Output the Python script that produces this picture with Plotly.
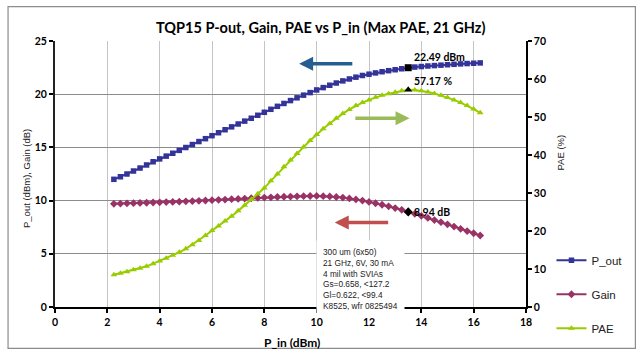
import plotly.graph_objects as go

# ---------------- data ----------------
pin = [2.25, 2.5, 2.75, 3.0, 3.25, 3.5, 3.75, 4.0, 4.25, 4.5,
       4.75, 5.0, 5.25, 5.5, 5.75, 6.0, 6.25, 6.5, 6.75, 7.0,
       7.25, 7.5, 7.75, 8.0, 8.25, 8.5, 8.75, 9.0, 9.25, 9.5,
       9.75, 10.0, 10.25, 10.5, 10.75, 11.0, 11.25, 11.5, 11.75, 12.0,
       12.25, 12.5, 12.75, 13.0, 13.25, 13.5, 13.75, 14.0, 14.25, 14.5,
       14.75, 15.0, 15.25, 15.5, 15.75, 16.0, 16.25]

p_out = [12.00, 12.24, 12.50, 12.78, 13.06, 13.35, 13.65, 13.92, 14.18, 14.45,
         14.72, 14.99, 15.27, 15.55, 15.82, 16.10, 16.38, 16.66, 16.93, 17.20,
         17.47, 17.74, 18.02, 18.30, 18.58, 18.86, 19.13, 19.40, 19.66, 19.91,
         20.15, 20.40, 20.62, 20.84, 21.05, 21.25, 21.43, 21.60, 21.76, 21.88,
         22.00, 22.11, 22.21, 22.30, 22.39, 22.49, 22.55, 22.60, 22.65, 22.69,
         22.73, 22.77, 22.81, 22.85, 22.88, 22.91, 22.94]

gain = [9.70, 9.72, 9.74, 9.76, 9.78, 9.80, 9.82, 9.84, 9.86, 9.88,
        9.90, 9.93, 9.95, 9.98, 10.01, 10.04, 10.07, 10.10, 10.13, 10.16,
        10.19, 10.22, 10.25, 10.28, 10.31, 10.34, 10.36, 10.38, 10.40, 10.42,
        10.43, 10.44, 10.42, 10.39, 10.34, 10.28, 10.20, 10.11, 10.00, 9.88,
        9.75, 9.61, 9.46, 9.30, 9.13, 8.94, 8.76, 8.57, 8.37, 8.17,
        7.97, 7.77, 7.56, 7.35, 7.14, 6.93, 6.72]

pae = [8.5, 8.9, 9.3, 9.8, 10.2, 10.7, 11.4, 12.1, 12.8, 13.6,
       14.4, 15.3, 16.4, 17.5, 18.8, 20.1, 21.3, 22.6, 23.9, 25.3,
       26.8, 28.3, 29.8, 31.3, 33.2, 35.0, 36.9, 38.7, 40.4, 42.1,
       43.8, 45.4, 46.9, 48.3, 49.7, 50.9, 52.0, 53.0, 53.8, 54.5,
       55.2, 55.7, 56.1, 56.5, 56.9, 57.17, 57.1, 56.9, 56.6, 56.2,
       55.7, 55.1, 54.5, 53.8, 53.0, 52.1, 51.1]

marker_pin = 13.5  # P_in of the max-PAE marker
x_ticks = [0, 2, 4, 6, 8, 10, 12, 14, 16, 18]
y_ticks = [0, 5, 10, 15, 20, 25]
y_grid = [5, 10, 15, 20]
y2_ticks = [0, 10, 20, 30, 40, 50, 60, 70]

info_lines = ["300 um (6x50)", "21 GHz, 6V, 30 mA", "4 mil with SVIAs",
              "Gs=0.658, <127.2", "Gl=0.622, <99.4", "K8525, wfr 0825494"]

# ---------------- styling ----------------
C_POUT = "#333399"
C_GAIN = "#993366"
C_PAE = "#99CC00"
TICKFONT = dict(family="Lato", size=10.5, color="black", weight="bold")

mi = pin.index(marker_pin)

fig = go.Figure()
fig.add_trace(go.Scatter(x=pin, y=p_out, name="P_out", mode="lines+markers",
                         line=dict(color=C_POUT, width=2),
                         marker=dict(symbol="square", size=5.5, color=C_POUT),
                         legendgroup="a"))
fig.add_trace(go.Scatter(x=pin, y=gain, name="Gain", mode="lines+markers",
                         line=dict(color=C_GAIN, width=2),
                         marker=dict(symbol="diamond", size=6, color=C_GAIN),
                         legendgroup="b"))
fig.add_trace(go.Scatter(x=pin, y=pae, name="PAE", mode="lines+markers",
                         line=dict(color=C_PAE, width=2),
                         marker=dict(symbol="triangle-up", size=6, color=C_PAE),
                         yaxis="y2", legendgroup="c"))

# black markers at the highlighted point
fig.add_trace(go.Scatter(x=[pin[mi]], y=[p_out[mi]], mode="markers", showlegend=False,
                         marker=dict(symbol="square", size=7, color="black")))
fig.add_trace(go.Scatter(x=[pin[mi]], y=[gain[mi]], mode="markers", showlegend=False,
                         marker=dict(symbol="diamond", size=7, color="black")))
fig.add_trace(go.Scatter(x=[pin[mi]], y=[pae[mi]], mode="markers", showlegend=False,
                         yaxis="y2", marker=dict(symbol="triangle-up", size=7, color="black")))

LABFONT = dict(family="Lato", size=10.5, color="black", weight="bold")
annotations = [
    dict(x=pin[mi], y=p_out[mi], xref="x", yref="y", text=f"{p_out[mi]:.2f} dBm",
         showarrow=False, xanchor="left", yanchor="bottom", xshift=4, yshift=3, font=LABFONT),
    dict(x=pin[mi], y=pae[mi], xref="x", yref="y2", text=f"{pae[mi]:.2f} %",
         showarrow=False, xanchor="left", yanchor="bottom", xshift=4, yshift=1, font=LABFONT),
    dict(x=pin[mi], y=gain[mi], xref="x", yref="y", text=f"{gain[mi]:.2f} dB",
         showarrow=False, xanchor="left", yanchor="middle", xshift=4, font=LABFONT),
    # direction arrows
    dict(x=9.33, y=22.87, ax=11.42, ay=22.87, xref="x", yref="y", axref="x", ayref="y",
         showarrow=True, arrowhead=2, arrowsize=0.8, arrowwidth=3.5, arrowcolor="#255E91", text=""),
    dict(x=13.55, y=17.74, ax=11.42, ay=17.74, xref="x", yref="y", axref="x", ayref="y",
         showarrow=True, arrowhead=2, arrowsize=0.8, arrowwidth=3.5, arrowcolor="#9BBB59", text=""),
    dict(x=10.69, y=7.94, ax=12.79, ay=7.94, xref="x", yref="y", axref="x", ayref="y",
         showarrow=True, arrowhead=2, arrowsize=0.8, arrowwidth=3.5, arrowcolor="#C0504D", text=""),
    # info box
    dict(x=(316 - 55) / 471.5, y=(307.5 - 240) / 267, xref="paper", yref="paper",
         text="<br>".join(info_lines), showarrow=False, align="left",
         xanchor="left", yanchor="top", bgcolor="white", borderpad=6,
         font=dict(family="Liberation Sans", size=8.3, color="#222222")),
    # title
    dict(x=(321 - 55) / 471.5, y=(307.5 - 27) / 267, xref="paper", yref="paper",
         text="TQP15 P-out, Gain, PAE vs P_in (Max PAE, 21 GHz)", showarrow=False,
         xanchor="center", yanchor="middle",
         font=dict(family="Lato", size=14.5, color="black", weight="bold")),
    # axis titles
    dict(x=(322 - 55) / 471.5, y=(307.5 - 343) / 267, xref="paper", yref="paper",
         text="P_in (dBm)", showarrow=False, xanchor="right", yanchor="middle",
         font=dict(family="Lato", size=12, color="black", weight="bold")),
    dict(x=(27 - 55) / 471.5, y=(307.5 - 179) / 267, xref="paper", yref="paper",
         text="P_out (dBm), Gain (dB)", showarrow=False, textangle=-90,
         xanchor="center", yanchor="middle",
         font=dict(family="Liberation Sans", size=9.5, color="#222222")),
    dict(x=(561 - 55) / 471.5, y=(307.5 - 152) / 267, xref="paper", yref="paper",
         text="PAE (%)", showarrow=False, textangle=-90,
         xanchor="center", yanchor="middle",
         font=dict(family="Liberation Sans", size=9.5, color="#222222")),
]

shapes = [
    dict(type="rect", xref="paper", yref="paper",
         x0=(8 - 55) / 471.5, x1=(636 - 55) / 471.5,
         y0=(307.5 - 349) / 267, y1=(307.5 - 6) / 267,
         line=dict(color="#8C8C8C", width=1.2), fillcolor="rgba(0,0,0,0)", layer="below"),
]

fig.update_layout(
    width=641, height=356, autosize=False,
    margin=dict(l=55, r=114.5, t=40.5, b=48.5, pad=0),
    paper_bgcolor="white", plot_bgcolor="white",
    showlegend=True,
    legend=dict(x=(552 - 55) / 471.5, y=(307.5 - 246) / 267, xanchor="left", yanchor="top",
                bgcolor="rgba(0,0,0,0)", font=dict(family="Liberation Sans", size=11.5, color="#222222"),
                tracegroupgap=15, itemwidth=30),
    xaxis=dict(range=[0, 18], tickvals=x_ticks, showline=True, linecolor="black", linewidth=2,
               ticks="outside", ticklen=4, tickcolor="black", tickwidth=1.5,
               showgrid=True, gridcolor="#C4C4C4", gridwidth=1.3, zeroline=False,
               tickfont=TICKFONT, fixedrange=True),
    yaxis=dict(range=[0, 25], tickvals=y_ticks, showline=True, linecolor="#222222", linewidth=2,
               ticks="outside", ticklen=4, tickcolor="black", tickwidth=1.5,
               showgrid=False, zeroline=False, tickfont=TICKFONT),
    yaxis3=dict(range=[0, 25], tickvals=y_grid, overlaying="y", side="left",
                showgrid=True, gridcolor="#8C8C8C", gridwidth=1, zeroline=False,
                showticklabels=False, ticks="", showline=False),
    yaxis2=dict(range=[0, 70], tickvals=y2_ticks, overlaying="y", side="right",
                showline=True, linecolor="black", linewidth=1.5,
                ticks="outside", ticklen=4, tickcolor="black", tickwidth=1.5,
                showgrid=False, zeroline=False, tickfont=TICKFONT),
    annotations=annotations, shapes=shapes,
)

# anchor an invisible trace on yaxis3 so its gridlines are drawn
fig.add_trace(go.Scatter(x=[None], y=[None], yaxis="y3", showlegend=False, hoverinfo="skip"))

fig.write_html("out.html")
